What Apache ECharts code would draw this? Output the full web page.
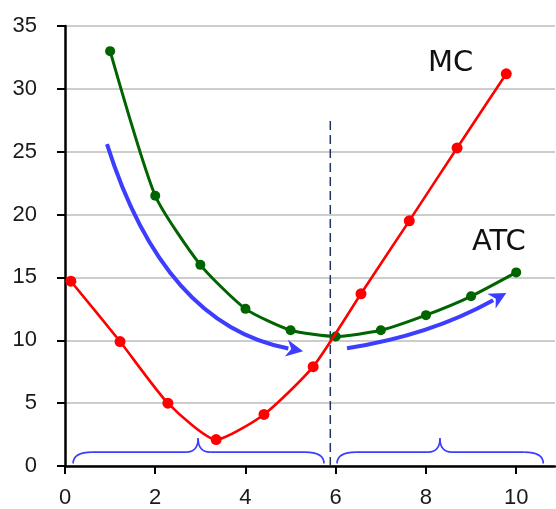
<!DOCTYPE html>
<html><head><meta charset="utf-8">
<script src="https://cdn.jsdelivr.net/npm/echarts@6/dist/echarts.min.js"></script>
<style>html,body{margin:0;padding:0;background:#fff}#c{width:556px;height:509px}</style>
</head><body><div id="c"></div>
<script>
var xTicks = [0, 2, 4, 6, 8, 10];
var mcX = [0.13, 1.22, 2.28, 3.35, 4.41, 5.50, 6.56, 7.63, 8.69, 9.78];
var mcY = [14.7, 9.9, 5.0, 2.1, 4.1, 7.9, 13.7, 19.5, 25.3, 31.2];
var atcX = [1, 2, 3, 4, 5, 6, 7, 8, 9, 10];
var atcY = [33, 21.5, 16, 12.5, 10.8, 10.3, 10.8, 12, 13.5, 15.4];
var divX = [5.88, 5.88];
var divY = [0, 27.7];
// arrows: start, control, head-base (data coords)
var arrowLeft = [[0.93, 25.6], [2.2, 11.2], [4.95, 9.35]];
var arrowRight = [[6.25, 9.37], [8.09, 10.4], [9.49, 13.19]];
// braces: [start, peak, end]
var braceX = [[0.18, 2.95, 5.74], [6.03, 8.31, 10.6]];
var braceLevels = [0.2, 1.1, 2.2];

var FONT = 'Liberation Sans';
var blue = '#3d3dff';

function zip(xs, ys) { return xs.map(function (x, i) { return [x, ys[i]]; }); }

function arrowRender(pts) {
  return function (params, api) {
    var p0 = api.coord(pts[0]), p1 = api.coord(pts[1]), p2 = api.coord(pts[2]);
    var dx = p2[0] - p1[0], dy = p2[1] - p1[1];
    var L = Math.sqrt(dx * dx + dy * dy); dx /= L; dy /= L;
    var hl = 15, hw = 8.5;
    var tip = [p2[0] + dx * hl, p2[1] + dy * hl];
    var nx = -dy, ny = dx;
    return {
      type: 'group',
      children: [
        { type: 'bezierCurve', shape: { x1: p0[0], y1: p0[1], x2: p2[0], y2: p2[1], cpx1: p1[0], cpy1: p1[1] },
          style: { stroke: blue, lineWidth: 4, fill: null } },
        { type: 'polygon', shape: { points: [tip, [p2[0] + nx * hw - dx * 2, p2[1] + ny * hw - dy * 2], [p2[0] + dx * 3, p2[1] + dy * 3], [p2[0] - nx * hw - dx * 2, p2[1] - ny * hw - dy * 2]] },
          style: { fill: blue } }
      ]
    };
  };
}

function braceRender(params, api) {
  var b = braceX[params.dataIndex];
  var a = api.coord([b[0], braceLevels[0]]);
  var pk = api.coord([b[1], braceLevels[2]]);
  var e = api.coord([b[2], braceLevels[0]]);
  var yl = api.coord([b[0], braceLevels[1]])[1];
  var r = 19, rm = 12;
  var st = { stroke: blue, lineWidth: 1.6, fill: null };
  return {
    type: 'group',
    children: [
      { type: 'bezierCurve', shape: { x1: a[0], y1: a[1], x2: a[0] + r, y2: yl, cpx1: a[0], cpy1: yl }, style: st },
      { type: 'line', shape: { x1: a[0] + r, y1: yl, x2: pk[0] - rm, y2: yl }, style: st },
      { type: 'bezierCurve', shape: { x1: pk[0] - rm, y1: yl, x2: pk[0], y2: pk[1], cpx1: pk[0], cpy1: yl }, style: st },
      { type: 'bezierCurve', shape: { x1: pk[0], y1: pk[1], x2: pk[0] + rm, y2: yl, cpx1: pk[0], cpy1: yl }, style: st },
      { type: 'line', shape: { x1: pk[0] + rm, y1: yl, x2: e[0] - r, y2: yl }, style: st },
      { type: 'bezierCurve', shape: { x1: e[0] - r, y1: yl, x2: e[0], y2: e[1], cpx1: e[0], cpy1: yl }, style: st }
    ]
  };
}

var chart = echarts.init(document.getElementById('c'), null, { renderer: 'canvas' });
chart.setOption({
  animation: false,
  backgroundColor: '#fff',
  grid: { left: 65, right: 1, top: 26, bottom: 43, containLabel: false },
  xAxis: {
    type: 'value', min: 0, max: 10.86, interval: 2,
    axisLine: { show: true, onZero: false, lineStyle: { color: '#000', width: 2.5 } },
    axisTick: { show: true, length: 8, lineStyle: { color: '#000', width: 2 }, customValues: xTicks },
    axisLabel: { fontFamily: FONT, fontSize: 22, color: '#1a1a1a', margin: 21, customValues: xTicks },
    splitLine: { show: false }
  },
  yAxis: {
    type: 'value', min: 0, max: 35, interval: 5,
    axisLine: { show: true, lineStyle: { color: '#000', width: 2.5 } },
    axisTick: { show: true, length: 8, lineStyle: { color: '#000', width: 2 } },
    axisLabel: { fontFamily: FONT, fontSize: 22, color: '#1a1a1a', margin: 28 },
    splitLine: { show: true, lineStyle: { color: '#bdbdbd', width: 1.5 } }
  },
  graphic: [
    { type: 'text', left: 428, top: 49, style: { text: 'MC', font: '29px "DejaVu Sans"', fill: '#111' } },
    { type: 'text', left: 472, top: 228, style: { text: 'ATC', font: '29px "DejaVu Sans"', fill: '#111' } }
  ],
  series: [
    { type: 'line', data: zip(divX, divY), symbol: 'none', z: 1,
      lineStyle: { color: '#1f3460', width: 1.5, type: [9, 5] } },
    { type: 'custom', renderItem: braceRender, data: braceX.map(function (b) { return b; }), z: 2, silent: true },
    { type: 'custom', renderItem: arrowRender(arrowLeft), data: [0], z: 3, silent: true },
    { type: 'custom', renderItem: arrowRender(arrowRight), data: [0], z: 3, silent: true },
    { type: 'line', data: zip(atcX, atcY), smooth: 0.2, symbol: 'circle', symbolSize: 10, z: 4,
      lineStyle: { color: '#006400', width: 3 }, itemStyle: { color: '#006400' } },
    { type: 'line', data: zip(mcX, mcY), smooth: 0.2, symbol: 'circle', symbolSize: 11, z: 5,
      lineStyle: { color: '#ff0000', width: 2.6 }, itemStyle: { color: '#ff0000' } }
  ]
});
</script>
</body></html>
